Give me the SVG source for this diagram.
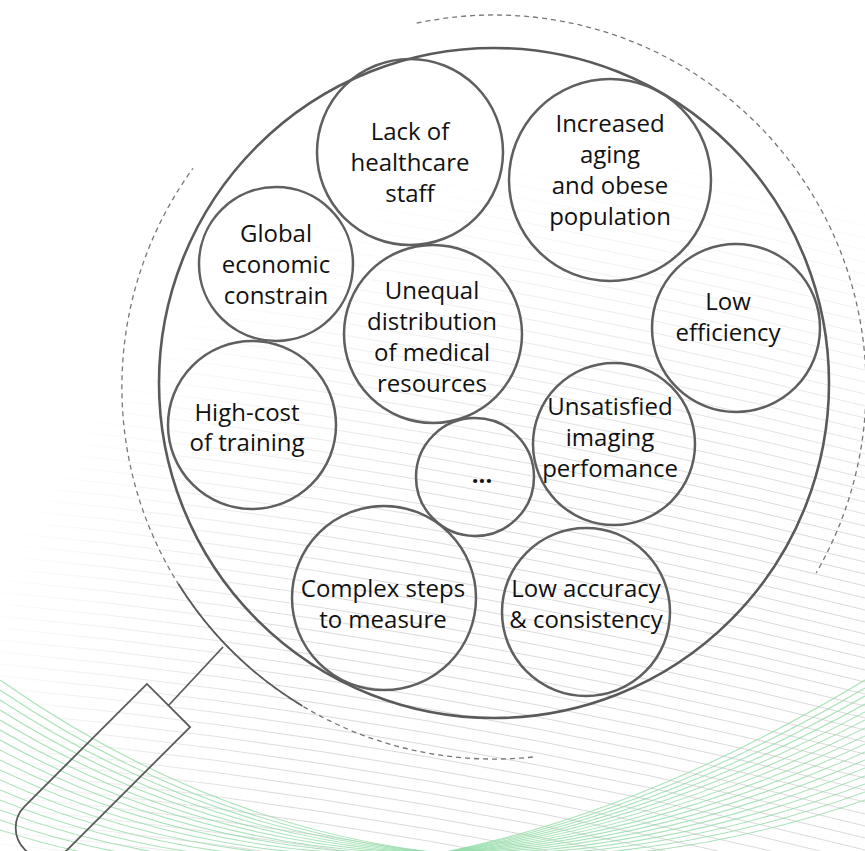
<svg xmlns="http://www.w3.org/2000/svg" xmlns:xlink="http://www.w3.org/1999/xlink" width="865" height="851" viewBox="0 0 865 851">
<style>
.bgl{fill:none;stroke:#dadada;stroke-width:1}
.grn{fill:none;stroke:#93dca8;stroke-width:1.1;stroke-opacity:0.8}
.dash{fill:none;stroke:#777;stroke-width:1.3;stroke-dasharray:5 4}
.rim{fill:none;stroke:#5a5a5a;stroke-width:2.6}
.node circle{fill:none;stroke:#5f5f5f;stroke-width:2.5}
.node text{font-family:"Open Sans","Noto Sans",sans-serif;font-size:24px;fill:#111;text-anchor:middle}
.handle{fill:none;stroke:#5a5a5a;stroke-width:1.8}
</style>
<defs>
<path id="gl" d="M0,0 Q430,40 865,150"/>
<radialGradient id="fade" cx="620" cy="820" r="680" gradientUnits="userSpaceOnUse">
<stop offset="0" stop-color="#fff"/>
<stop offset="0.5" stop-color="#fff"/>
<stop offset="1" stop-color="#000"/>
</radialGradient>
<mask id="bgmask" maskUnits="userSpaceOnUse" x="0" y="0" width="865" height="851">
<rect x="0" y="0" width="865" height="851" fill="url(#fade)"/>
</mask>
</defs>
<rect width="865" height="851" fill="#fff"/>
<g id="background-lines" class="bgl" mask="url(#bgmask)">
<use xlink:href="#gl" y="-140"/><use xlink:href="#gl" y="-128"/><use xlink:href="#gl" y="-116"/><use xlink:href="#gl" y="-104"/><use xlink:href="#gl" y="-92"/><use xlink:href="#gl" y="-80"/><use xlink:href="#gl" y="-68"/><use xlink:href="#gl" y="-56"/><use xlink:href="#gl" y="-44"/><use xlink:href="#gl" y="-32"/><use xlink:href="#gl" y="-20"/><use xlink:href="#gl" y="-8"/><use xlink:href="#gl" y="4"/><use xlink:href="#gl" y="16"/><use xlink:href="#gl" y="28"/><use xlink:href="#gl" y="40"/><use xlink:href="#gl" y="52"/><use xlink:href="#gl" y="64"/><use xlink:href="#gl" y="76"/><use xlink:href="#gl" y="88"/><use xlink:href="#gl" y="100"/><use xlink:href="#gl" y="112"/><use xlink:href="#gl" y="124"/><use xlink:href="#gl" y="136"/><use xlink:href="#gl" y="148"/><use xlink:href="#gl" y="160"/><use xlink:href="#gl" y="172"/><use xlink:href="#gl" y="184"/><use xlink:href="#gl" y="196"/><use xlink:href="#gl" y="208"/><use xlink:href="#gl" y="220"/><use xlink:href="#gl" y="232"/><use xlink:href="#gl" y="244"/><use xlink:href="#gl" y="256"/><use xlink:href="#gl" y="268"/><use xlink:href="#gl" y="280"/><use xlink:href="#gl" y="292"/><use xlink:href="#gl" y="304"/><use xlink:href="#gl" y="316"/><use xlink:href="#gl" y="328"/><use xlink:href="#gl" y="340"/><use xlink:href="#gl" y="352"/><use xlink:href="#gl" y="364"/><use xlink:href="#gl" y="376"/><use xlink:href="#gl" y="388"/><use xlink:href="#gl" y="400"/><use xlink:href="#gl" y="412"/><use xlink:href="#gl" y="424"/><use xlink:href="#gl" y="436"/><use xlink:href="#gl" y="448"/><use xlink:href="#gl" y="460"/><use xlink:href="#gl" y="472"/><use xlink:href="#gl" y="484"/><use xlink:href="#gl" y="496"/><use xlink:href="#gl" y="508"/><use xlink:href="#gl" y="520"/><use xlink:href="#gl" y="532"/><use xlink:href="#gl" y="544"/><use xlink:href="#gl" y="556"/><use xlink:href="#gl" y="568"/><use xlink:href="#gl" y="580"/><use xlink:href="#gl" y="592"/><use xlink:href="#gl" y="604"/><use xlink:href="#gl" y="616"/><use xlink:href="#gl" y="628"/><use xlink:href="#gl" y="640"/><use xlink:href="#gl" y="652"/><use xlink:href="#gl" y="664"/><use xlink:href="#gl" y="676"/><use xlink:href="#gl" y="688"/><use xlink:href="#gl" y="700"/><use xlink:href="#gl" y="712"/><use xlink:href="#gl" y="724"/><use xlink:href="#gl" y="736"/><use xlink:href="#gl" y="748"/><use xlink:href="#gl" y="760"/><use xlink:href="#gl" y="772"/><use xlink:href="#gl" y="784"/><use xlink:href="#gl" y="796"/><use xlink:href="#gl" y="808"/><use xlink:href="#gl" y="820"/><use xlink:href="#gl" y="832"/><use xlink:href="#gl" y="844"/>
</g>
<g id="green-wave" class="grn">
<path d="M0,680 Q400,960 865,800"/>
<path d="M0,690 Q400,960 865,792"/>
<path d="M0,700 Q400,960 865,784"/>
<path d="M0,710 Q400,960 865,776"/>
<path d="M0,720 Q400,960 865,768"/>
<path d="M0,730 Q400,960 865,760"/>
<path d="M0,740 Q400,960 865,752"/>
<path d="M0,750 Q400,960 865,744"/>
<path d="M0,760 Q400,960 865,736"/>
<path d="M0,770 Q400,960 865,728"/>
<path d="M0,780 Q400,960 865,720"/>
<path d="M0,790 Q400,960 865,712"/>
<path d="M0,800 Q400,960 865,704"/>
<path d="M0,810 Q400,960 865,696"/>
<path d="M0,820 Q400,960 865,688"/>
<path d="M0,830 Q400,960 865,680"/>
</g>
<g id="magnifier">
<path class="dash" d="M532.9,757 A372,372 0 0 1 193,168.3"/>
<path class="dash" d="M416.7,23.1 A372,372 0 0 1 816.2,573"/>
<path class="handle" d="M302.4,705.9 A372,372 0 0 1 178.5,584.1" stroke-width="1.2"/>
<circle class="rim" cx="494" cy="383" r="335"/>
<line class="handle" x1="168.5" y1="705.5" x2="223" y2="647"/>
<path class="handle" transform="translate(168.5,705.5) rotate(135)" d="M0,-30.5 L173,-30.5 A30.5,30.5 0 0 1 173,30.5 L0,30.5 Z"/>
</g>
<g id="node-lack-of-staff" class="node">
<circle cx="410" cy="152" r="93"/>
<text x="410" y="140">Lack of</text>
<text x="410" y="171">healthcare</text>
<text x="410" y="202">staff</text>
</g>
<g id="node-aging-population" class="node">
<circle cx="610" cy="180" r="101"/>
<text x="610" y="132">Increased</text>
<text x="610" y="163">aging</text>
<text x="610" y="194">and obese</text>
<text x="610" y="225">population</text>
</g>
<g id="node-global-economic" class="node">
<circle cx="276" cy="264" r="77"/>
<text x="276" y="242">Global</text>
<text x="276" y="273">economic</text>
<text x="276" y="304">constrain</text>
</g>
<g id="node-unequal-distribution" class="node">
<circle cx="433" cy="334" r="89"/>
<text x="432" y="299">Unequal</text>
<text x="432" y="330">distribution</text>
<text x="432" y="361">of medical</text>
<text x="432" y="392">resources</text>
</g>
<g id="node-low-efficiency" class="node">
<circle cx="736" cy="328" r="84"/>
<text x="728" y="310">Low</text>
<text x="728" y="341">efficiency</text>
</g>
<g id="node-high-cost-training" class="node">
<circle cx="252" cy="425" r="84"/>
<text x="247" y="421">High-cost</text>
<text x="247" y="451">of training</text>
</g>
<g id="node-ellipsis" class="node">
<circle cx="475" cy="477" r="59"/>
<text x="482" y="483" font-weight="bold">...</text>
</g>
<g id="node-imaging-performance" class="node">
<circle cx="614" cy="444" r="81"/>
<text x="610" y="415">Unsatisfied</text>
<text x="610" y="446">imaging</text>
<text x="610" y="477">perfomance</text>
</g>
<g id="node-complex-steps" class="node">
<circle cx="384" cy="598" r="92"/>
<text x="383" y="597">Complex steps</text>
<text x="383" y="628">to measure</text>
</g>
<g id="node-low-accuracy" class="node">
<circle cx="586" cy="612" r="84"/>
<text x="586" y="597">Low accuracy</text>
<text x="586" y="628">&amp; consistency</text>
</g>
</svg>
